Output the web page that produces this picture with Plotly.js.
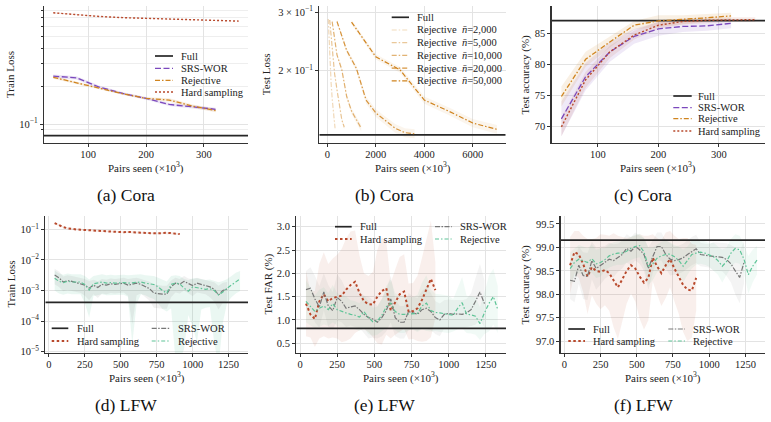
<!DOCTYPE html>
<html>
<head>
<meta charset="utf-8">
<script src="https://cdn.plot.ly/plotly-3.0.1.min.js"></script>
<style>
  html, body { margin: 0; padding: 0; background: #ffffff; }
  #chart { width: 771px; height: 422px; }
</style>
</head>
<body>
<div id="chart"></div>
<script>
// ---------------- Cora: train loss (a) ----------------
const coraPairs = [40, 80, 120, 160, 200, 240, 280, 320];
const coraPairsHard = [40, 80, 120, 160, 200, 240, 280, 320, 360];
const coraTrainFull = 0.0808;
const coraTrainSrs = [0.240, 0.233, 0.196, 0.175, 0.160, 0.143, 0.137, 0.131];
const coraTrainSrsStd = [0.008, 0.007, 0.005, 0.004, 0.004, 0.004, 0.004, 0.004];
const coraTrainRej = [0.235, 0.212, 0.192, 0.174, 0.160, 0.155, 0.139, 0.128];
const coraTrainRejStd = [0.006, 0.005, 0.004, 0.003, 0.003, 0.005, 0.004, 0.004];
const coraTrainHard = [0.765, 0.735, 0.715, 0.700, 0.690, 0.680, 0.672, 0.665, 0.657];
const coraTrainHardStd = [0.006, 0.005, 0.005, 0.004, 0.004, 0.004, 0.004, 0.004, 0.004];

// ---------------- Cora: test loss for several n-bar (b) ----------------
const coraTestFull = 0.128;
const nbarLabels = ['2,000', '5,000', '10,000', '20,000', '50,000'];
const nbarPairs = [
  [40, 80, 120, 160, 200, 240, 280, 320],
  [100, 200, 300, 400, 500, 600, 700],
  [200, 400, 600, 800, 1000, 1200, 1400],
  [400, 800, 1200, 1600, 2000, 2400, 2800, 3200, 3600],
  [1000, 2000, 3000, 4000, 5000, 6000, 7000]
];
const nbarLoss = [
  [0.286, 0.235, 0.205, 0.182, 0.165, 0.152, 0.141, 0.134],
  [0.284, 0.230, 0.196, 0.175, 0.156, 0.142, 0.135],
  [0.281, 0.223, 0.201, 0.167, 0.151, 0.142, 0.134],
  [0.281, 0.230, 0.203, 0.163, 0.149, 0.141, 0.134, 0.130, 0.129],
  [0.280, 0.220, 0.201, 0.163, 0.151, 0.139, 0.133]
];
const nbarStd = [0.002, 0.002, 0.003, 0.004, 0.004];

// ---------------- Cora: test accuracy (c) ----------------
const coraAccFull = 87.03;
const coraAccSrs = [71.2, 78.0, 82.0, 84.5, 85.7, 86.1, 86.2, 86.6];
const coraAccSrsStd = [2.8, 2.2, 1.6, 1.2, 1.1, 0.9, 0.8, 0.8];
const coraAccRej = [74.8, 80.8, 83.6, 86.3, 87.0, 87.2, 87.5, 87.8];
const coraAccRejStd = [1.6, 1.2, 0.9, 0.7, 0.9, 0.7, 0.6, 0.5];
const coraAccHard = [69.9, 77.5, 82.0, 84.7, 86.3, 86.9, 87.1, 87.2, 87.2];
const coraAccHardStd = [1.5, 1.3, 1.0, 0.7, 0.6, 0.5, 0.5, 0.4, 0.4];

// ---------------- LFW (d, e, f) ----------------
const lfwPairs = [40, 70, 100, 130, 160, 190, 220, 250, 280, 310, 340, 370, 400, 430, 460,
  490, 520, 550, 580, 610, 640, 670, 700, 730, 760, 790, 820, 850, 880, 910, 940, 970,
  1000, 1030, 1060, 1090, 1120, 1150, 1180, 1210, 1240, 1270, 1300, 1330];
const lfwPairsSrs = lfwPairs.slice(0, 41);
const lfwPairsHard = lfwPairs.slice(0, 30);

// (d) train loss
const lfwTrainFull = 4.1e-4;
const lfwTrainHard = [0.160, 0.135, 0.118, 0.108, 0.102, 0.099, 0.097, 0.095, 0.094, 0.092,
  0.090, 0.088, 0.086, 0.085, 0.084, 0.083, 0.080, 0.082, 0.080, 0.079, 0.077, 0.076, 0.075,
  0.074, 0.074, 0.076, 0.077, 0.075, 0.072, 0.070];
const lfwTrainSrs = [3.2e-3, 2.6e-3, 1.9e-3, 2.1e-3, 2.0e-3, 1.8e-3, 1.7e-3, 1.5e-3, 1.2e-3,
  1.5e-3, 1.26e-3, 1.6e-3, 1.5e-3, 1.66e-3, 1.6e-3, 1.66e-3, 1.74e-3, 1.5e-3, 1.6e-3, 1.74e-3,
  1.6e-3, 1.38e-3, 1.15e-3, 8.3e-4, 7.9e-4, 7.6e-4, 7.6e-4, 1.32e-3, 1.74e-3, 1.6e-3, 2.0e-3,
  1.66e-3, 1.45e-3, 1.74e-3, 1.6e-3, 1.5e-3, 1.32e-3, 1.1e-3, 7.2e-4, 1.0e-3, 1.12e-3];
const lfwTrainSrsUp = [1.6, 1.6, 1.5, 1.5, 1.5, 1.5, 1.5, 1.6, 1.7, 1.5, 1.6, 1.5, 1.5, 1.5, 1.5,
  1.5, 1.5, 1.6, 1.6, 1.5, 1.5, 1.6, 1.7, 1.9, 1.9, 1.9, 1.9, 1.6, 1.5, 1.5, 1.5, 1.5, 1.6,
  1.5, 1.5, 1.5, 1.6, 1.7, 2.0, 1.8, 1.7];
const lfwTrainSrsDown = [2.0, 2.0, 2.0, 2.0, 2.0, 2.0, 2.0, 2.2, 2.5, 2.0, 2.2, 2.0, 2.0, 2.0,
  2.0, 2.0, 2.0, 2.2, 20, 2.5, 2.0, 2.2, 2.5, 3.0, 3.0, 3.0, 3.0, 2.2, 2.0, 2.0, 2.0, 2.0, 2.2,
  2.0, 2.0, 2.0, 2.2, 2.5, 3.0, 2.5, 2.5];
const lfwTrainRej = [2.5e-3, 2.0e-3, 1.82e-3, 2.0e-3, 1.9e-3, 1.86e-3, 1.9e-3, 1.58e-3, 1.05e-3,
  1.66e-3, 1.82e-3, 1.9e-3, 1.74e-3, 1.82e-3, 1.74e-3, 1.82e-3, 1.82e-3, 1.74e-3, 1.78e-3,
  1.82e-3, 1.9e-3, 1.74e-3, 1.66e-3, 1.58e-3, 1.32e-3, 1.0e-3, 8.3e-4, 1.58e-3, 1.74e-3,
  1.66e-3, 1.2e-3, 9.5e-4, 1.32e-3, 1.26e-3, 1.2e-3, 1.1e-3, 1.15e-3, 1.0e-3, 7.2e-4, 8.9e-4,
  1.2e-3, 1.5e-3, 2.0e-3, 2.4e-3];
const lfwTrainRejUp = [1.8, 1.8, 1.8, 1.8, 1.8, 1.8, 1.8, 1.9, 2.2, 1.8, 1.8, 1.8, 1.8, 1.8,
  1.8, 1.8, 1.8, 1.8, 1.8, 1.8, 1.8, 1.8, 1.8, 1.9, 2.0, 2.3, 2.4, 1.9, 1.8, 1.8, 2.0, 2.3, 1.9,
  2.0, 2.0, 2.0, 2.0, 2.1, 2.6, 2.3, 2.0, 2.0, 1.9, 1.8];
const lfwTrainRejDown = [2.5, 2.5, 2.5, 2.5, 2.5, 2.5, 2.5, 4, 8, 2.5, 2.5, 2.5, 2.5, 2.5, 2.5,
  2.5, 2.5, 2.8, 100, 5, 2.5, 2.5, 2.8, 3, 3.5, 4, 4, 6, 300, 300, 100, 6, 20, 60, 5, 4, 4, 50,
  200, 10, 3, 2.5, 2.5, 2.5];

// (e) test FAR
const lfwFarFull = 0.82;
const lfwFarHard = [1.35, 1.12, 1.02, 1.40, 1.55, 1.40, 1.47, 1.50, 1.52, 1.65, 1.75, 1.82,
  1.58, 1.40, 1.34, 1.33, 1.50, 1.62, 1.68, 1.20, 1.38, 1.55, 1.61, 1.18, 1.19, 1.25, 1.43,
  1.65, 1.88, 1.64];
const lfwFarHardStd = [0.7, 0.5, 0.6, 0.8, 0.9, 0.8, 0.85, 0.9, 1.0, 1.1, 1.15, 1.1, 0.8, 0.6,
  0.6, 0.7, 1.0, 1.15, 1.0, 0.6, 0.7, 0.8, 0.8, 0.6, 0.6, 0.7, 0.9, 1.1, 1.25, 0.6];
const lfwFarSrs = [1.65, 1.68, 1.45, 1.28, 1.60, 1.30, 1.20, 1.48, 1.40, 1.25, 1.28, 1.30, 1.22,
  1.12, 1.05, 1.02, 0.95, 1.05, 1.20, 1.45, 1.05, 0.95, 0.95, 1.18, 1.15, 1.12, 1.22, 1.25,
  1.18, 1.05, 1.00, 1.12, 1.14, 1.12, 1.13, 1.12, 1.15, 1.22, 1.40, 1.60, 1.35];
const lfwFarSrsStd = [0.4, 0.45, 0.5, 0.45, 0.4, 0.45, 0.4, 0.5, 0.45, 0.4, 0.4, 0.45, 0.4, 0.4,
  0.45, 0.4, 0.35, 0.4, 0.45, 0.5, 0.4, 0.35, 0.35, 0.4, 0.35, 0.35, 0.4, 0.45, 0.4, 0.35, 0.35,
  0.3, 0.3, 0.3, 0.3, 0.3, 0.3, 0.35, 0.5, 0.6, 0.5];
const lfwFarRej = [1.40, 1.28, 1.18, 1.25, 1.30, 1.22, 1.35, 1.22, 1.18, 1.15, 1.12, 1.10, 1.06,
  1.18, 1.05, 0.96, 0.98, 1.10, 1.28, 1.36, 1.18, 1.12, 1.12, 1.13, 1.14, 1.14, 1.30, 1.36,
  1.20, 1.16, 1.15, 1.13, 1.12, 1.10, 1.25, 1.37, 1.12, 1.11, 1.08, 0.92, 1.15, 1.35, 1.50, 1.22];
const lfwFarRejStd = [0.45, 0.4, 0.35, 0.4, 0.4, 0.35, 0.4, 0.35, 0.35, 0.35, 0.3, 0.3, 0.3,
  0.35, 0.35, 0.3, 0.3, 0.35, 0.45, 0.5, 0.4, 0.4, 0.4, 0.35, 0.35, 0.4, 0.5, 0.6, 0.45, 0.4,
  0.4, 0.4, 0.4, 0.35, 0.45, 0.55, 0.4, 0.4, 0.4, 0.35, 0.45, 0.6, 0.6, 0.5];

// (f) test accuracy
const lfwAccFull = 99.155;
const lfwAccHard = [98.62, 98.90, 98.85, 98.65, 98.38, 98.58, 98.50, 98.48, 98.52, 98.45, 98.30,
  98.15, 98.32, 98.50, 98.62, 98.55, 98.38, 98.25, 98.35, 98.78, 98.60, 98.45, 98.62, 98.75,
  98.55, 98.38, 98.20, 98.10, 98.08, 98.35];
const lfwAccHardStd = [0.6, 0.45, 0.5, 0.6, 0.8, 0.6, 0.7, 0.8, 0.75, 0.8, 1.0, 1.1, 0.9, 0.7,
  0.6, 0.7, 0.9, 1.0, 0.9, 0.5, 0.6, 0.7, 0.7, 0.6, 0.7, 0.8, 1.0, 1.1, 1.0, 0.7];
const lfwAccSrs = [98.30, 98.28, 98.62, 98.40, 98.38, 98.72, 98.55, 98.62, 98.68, 98.75, 98.72,
  98.78, 98.85, 98.98, 98.92, 99.02, 98.95, 98.85, 98.55, 98.80, 99.02, 99.02, 98.85, 98.75,
  98.72, 98.74, 98.78, 98.85, 98.92, 98.97, 98.85, 98.83, 98.82, 98.81, 98.80, 98.79, 98.74,
  98.65, 98.50, 98.36, 98.68];
const lfwAccSrsStd = [0.4, 0.45, 0.4, 0.5, 0.5, 0.4, 0.45, 0.4, 0.35, 0.35, 0.35, 0.3, 0.3, 0.3,
  0.3, 0.3, 0.3, 0.35, 0.45, 0.35, 0.3, 0.3, 0.3, 0.35, 0.3, 0.3, 0.3, 0.3, 0.3, 0.3, 0.25, 0.25,
  0.25, 0.3, 0.3, 0.3, 0.35, 0.4, 0.5, 0.55, 0.45];
const lfwAccRej = [98.55, 98.68, 98.75, 98.72, 98.68, 98.76, 98.65, 98.68, 98.74, 98.82, 98.86,
  98.88, 98.88, 98.92, 98.98, 99.02, 99.04, 98.90, 98.60, 98.65, 98.77, 98.82, 98.85, 98.86,
  98.80, 98.72, 98.60, 98.72, 98.85, 98.88, 98.90, 98.88, 98.84, 98.80, 98.72, 98.60, 98.70,
  98.88, 98.98, 98.95, 98.75, 98.42, 98.60, 98.73];
const lfwAccRejStd = [0.35, 0.3, 0.3, 0.3, 0.3, 0.3, 0.3, 0.3, 0.25, 0.25, 0.25, 0.25, 0.25,
  0.25, 0.25, 0.25, 0.25, 0.3, 0.4, 0.35, 0.3, 0.3, 0.3, 0.25, 0.25, 0.3, 0.35, 0.3, 0.3, 0.25,
  0.25, 0.25, 0.25, 0.3, 0.3, 0.35, 0.3, 0.3, 0.3, 0.3, 0.3, 0.4, 0.35, 0.3];

// ---------------- Styling ----------------
const W = 771, H = 422;
const FONT = '"Liberation Serif", "Times New Roman", serif';
const INK = '#222222';
const C_FULL = '#262626';
const C_SRS = '#7b48bd';
const C_REJ = '#d0841f';
const C_HARD = '#b8492c';
const C_SRS_LFW = '#777777';
const C_REJ_LFW = '#5fc497';

const DASH_SRS = '6px,2.5px';
const DASH_REJ = '5px,2px,1.5px,2px';
const DASH_HARD = '2px,2px';
const DASH_SRS_LFW = '5px,1.5px,1.5px,1.5px';
const DASH_REJ_LFW = '4px,2px,1.5px,2px';
const DASH_HARD_LFW = '2.5px,2.5px';

function rgba(hex, a) {
  const n = parseInt(hex.slice(1), 16);
  return `rgba(${(n >> 16) & 255},${(n >> 8) & 255},${n & 255},${a})`;
}
const px = v => v / W;
const py = v => 1 - v / H;

// Panel boxes in page pixels: [left, right], [top, bottom]
const boxes = [
  { x: [44, 248], y: [6, 143] },
  { x: [319.3, 505.7], y: [6, 143] },
  { x: [551.7, 765], y: [6, 143] },
  { x: [45.3, 248], y: [216, 353] },
  { x: [296.3, 506], y: [216, 353] },
  { x: [560.7, 765], y: [216, 353] }
];
const xRanges = [[24, 376], [-330, 7360], [24, 376], [-25, 1385], [-25, 1385], [-25, 1385]];

const traces = [];
const sfx = n => (n === 1 ? '' : String(n));

function line(ax, x, y, color, dash, width) {
  traces.push({
    type: 'scatter', mode: 'lines', x: x, y: y,
    xaxis: 'x' + sfx(ax), yaxis: 'y' + sfx(ax),
    line: { color: color, dash: dash, width: width },
    hoverinfo: 'skip', showlegend: false
  });
}
function band(ax, x, lo, hi, color) {
  traces.push({
    type: 'scatter', mode: 'lines',
    x: x.concat(x.slice().reverse()),
    y: hi.concat(lo.slice().reverse()),
    fill: 'toself', fillcolor: color, line: { width: 0 },
    xaxis: 'x' + sfx(ax), yaxis: 'y' + sfx(ax),
    hoverinfo: 'skip', showlegend: false
  });
}
function stdBand(ax, x, m, s, color, floor) {
  band(ax, x, m.map((v, i) => Math.max(v - s[i], floor)), m.map((v, i) => v + s[i]), color);
}
function fullLine(ax, value) {
  line(ax, xRanges[ax - 1], [value, value], C_FULL, 'solid', 1.7);
}

// (a)
stdBand(1, coraPairs, coraTrainSrs, coraTrainSrsStd, rgba(C_SRS, 0.15), 1e-3);
stdBand(1, coraPairs, coraTrainRej, coraTrainRejStd, rgba(C_REJ, 0.15), 1e-3);
stdBand(1, coraPairsHard, coraTrainHard, coraTrainHardStd, rgba(C_HARD, 0.12), 1e-3);
fullLine(1, coraTrainFull);
line(1, coraPairs, coraTrainSrs, C_SRS, DASH_SRS, 1.3);
line(1, coraPairs, coraTrainRej, C_REJ, DASH_REJ, 1.3);
line(1, coraPairsHard, coraTrainHard, C_HARD, DASH_HARD, 1.4);

// (b)
const nbarAlpha = [0.3, 0.45, 0.62, 0.85, 1.0];
nbarPairs.forEach((xs, k) => {
  stdBand(2, xs, nbarLoss[k], nbarLoss[k].map(() => nbarStd[k]), rgba(C_REJ, 0.08), 1e-3);
});
fullLine(2, coraTestFull);
nbarPairs.forEach((xs, k) => {
  line(2, xs, nbarLoss[k], rgba(C_REJ, nbarAlpha[k]), DASH_REJ, 1.2);
});

// (c)
stdBand(3, coraPairs, coraAccSrs, coraAccSrsStd, rgba(C_SRS, 0.12), 0);
stdBand(3, coraPairs, coraAccRej, coraAccRejStd, rgba(C_REJ, 0.12), 0);
stdBand(3, coraPairsHard, coraAccHard, coraAccHardStd, rgba(C_HARD, 0.1), 0);
fullLine(3, coraAccFull);
line(3, coraPairs, coraAccSrs, C_SRS, DASH_SRS, 1.3);
line(3, coraPairs, coraAccRej, C_REJ, DASH_REJ, 1.3);
line(3, coraPairsHard, coraAccHard, C_HARD, DASH_HARD, 1.4);

// (d)
band(4, lfwPairs, lfwTrainRej.map((v, i) => v / lfwTrainRejDown[i]),
  lfwTrainRej.map((v, i) => v * lfwTrainRejUp[i]), rgba(C_REJ_LFW, 0.13));
band(4, lfwPairsSrs, lfwTrainSrs.map((v, i) => v / lfwTrainSrsDown[i]),
  lfwTrainSrs.map((v, i) => v * lfwTrainSrsUp[i]), rgba(C_SRS_LFW, 0.1));
band(4, lfwPairsHard, lfwTrainHard.map(v => v * 0.93), lfwTrainHard.map(v => v * 1.07), rgba(C_HARD, 0.12));
fullLine(4, lfwTrainFull);
line(4, lfwPairsHard, lfwTrainHard, C_HARD, DASH_HARD_LFW, 2.0);
line(4, lfwPairsSrs, lfwTrainSrs, C_SRS_LFW, DASH_SRS_LFW, 1.2);
line(4, lfwPairs, lfwTrainRej, C_REJ_LFW, DASH_REJ_LFW, 1.2);

// (e)
stdBand(5, lfwPairsHard, lfwFarHard, lfwFarHardStd, rgba(C_HARD, 0.09), 0);
stdBand(5, lfwPairsSrs, lfwFarSrs, lfwFarSrsStd, rgba(C_SRS_LFW, 0.08), 0);
stdBand(5, lfwPairs, lfwFarRej, lfwFarRejStd, rgba(C_REJ_LFW, 0.09), 0);
fullLine(5, lfwFarFull);
line(5, lfwPairsHard, lfwFarHard, C_HARD, DASH_HARD_LFW, 2.0);
line(5, lfwPairsSrs, lfwFarSrs, C_SRS_LFW, DASH_SRS_LFW, 1.2);
line(5, lfwPairs, lfwFarRej, C_REJ_LFW, DASH_REJ_LFW, 1.2);

// (f)
stdBand(6, lfwPairsHard, lfwAccHard, lfwAccHardStd, rgba(C_HARD, 0.09), 0);
stdBand(6, lfwPairsSrs, lfwAccSrs, lfwAccSrsStd, rgba(C_SRS_LFW, 0.08), 0);
stdBand(6, lfwPairs, lfwAccRej, lfwAccRejStd, rgba(C_REJ_LFW, 0.09), 0);
fullLine(6, lfwAccFull);
line(6, lfwPairsHard, lfwAccHard, C_HARD, DASH_HARD_LFW, 2.0);
line(6, lfwPairsSrs, lfwAccSrs, C_SRS_LFW, DASH_SRS_LFW, 1.2);
line(6, lfwPairs, lfwAccRej, C_REJ_LFW, DASH_REJ_LFW, 1.2);

// ---------------- Axes ----------------
const tickFont = { family: FONT, size: 10.5, color: INK };
function axisBase(extra) {
  return Object.assign({
    showline: true, linecolor: '#333333', linewidth: 1.25, mirror: false,
    ticks: 'outside', ticklen: 3, tickwidth: 1, tickcolor: '#333333',
    showgrid: true, gridcolor: '#e3e3e3', gridwidth: 1, zeroline: false,
    tickfont: tickFont, fixedrange: true
  }, extra);
}
const sup = k => '10<sup>\u2212' + k + '</sup>';

const layout = {
  width: W, height: H,
  margin: { l: 0, r: 0, t: 0, b: 0 },
  paper_bgcolor: '#ffffff', plot_bgcolor: '#ffffff',
  showlegend: false,
  font: { family: FONT, color: INK }
};

const xTicksCora = { tickmode: 'array', tickvals: [100, 200, 300], ticktext: ['100', '200', '300'] };
const xTicksLfw = { tickmode: 'array', tickvals: [0, 250, 500, 750, 1000, 1250],
  ticktext: ['0', '250', '500', '750', '1000', '1250'] };

const yAxes = [
  { type: 'log', range: [Math.log10(0.0707), Math.log10(0.866)], tickmode: 'array',
    tickvals: [0.1], ticktext: [sup(1)],
    minor: { tickmode: 'array', tickvals: [0.09, 0.2, 0.3, 0.4, 0.5, 0.6, 0.7, 0.8],
      ticks: 'outside', ticklen: 2, tickcolor: '#333333', showgrid: true, gridcolor: '#eeeeee' } },
  { type: 'log', range: [Math.log10(0.121), Math.log10(0.313)], tickmode: 'array',
    tickvals: [0.2, 0.3], ticktext: ['2 \u00d7 ' + sup(1), '3 \u00d7 ' + sup(1)] },
  { range: [67.3, 89.4], tickmode: 'array', tickvals: [70, 75, 80, 85], ticktext: ['70', '75', '80', '85'] },
  { type: 'log', range: [-5.04, -0.565], tickmode: 'array',
    tickvals: [1e-5, 1e-4, 1e-3, 1e-2, 1e-1], ticktext: [sup(5), sup(4), sup(3), sup(2), sup(1)] },
  { range: [0.29, 3.23], tickmode: 'array', tickvals: [0.5, 1, 1.5, 2, 2.5, 3],
    ticktext: ['0.5', '1.0', '1.5', '2.0', '2.5', '3.0'] },
  { range: [96.75, 99.67], tickmode: 'array', tickvals: [97, 97.5, 98, 98.5, 99, 99.5],
    ticktext: ['97.0', '97.5', '98.0', '98.5', '99.0', '99.5'] }
];
const xTicks = [xTicksCora,
  { tickmode: 'array', tickvals: [0, 2000, 4000, 6000], ticktext: ['0', '2000', '4000', '6000'] },
  xTicksCora, xTicksLfw, xTicksLfw, xTicksLfw];

boxes.forEach((b, i) => {
  const n = i + 1;
  layout['xaxis' + sfx(n)] = axisBase(Object.assign({
    domain: [px(b.x[0]), px(b.x[1])], range: xRanges[i], anchor: 'y' + sfx(n),
    ticklabelstandoff: -2
  }, xTicks[i]));
  layout['yaxis' + sfx(n)] = axisBase(Object.assign({
    domain: [py(b.y[1]), py(b.y[0])], anchor: 'x' + sfx(n)
  }, yAxes[i]));
});

// ---------------- Titles, captions and legends ----------------
const annotations = [];
const shapes = [];
function text(t, x, y, opts) {
  annotations.push(Object.assign({
    text: t, x: px(x), y: py(y), xref: 'paper', yref: 'paper',
    showarrow: false, xanchor: 'center', yanchor: 'middle',
    font: { family: FONT, size: 11, color: INK }
  }, opts || {}));
}

const yTitles = ['Train Loss', 'Test Loss', 'Test accuracy (%)', 'Train Loss', 'Test FAR (%)', 'Test accuracy (%)'];
const yTitleX = [10.5, 266.7, 525, 10, 268, 525];
const captions = ['(a) Cora', '(b) Cora', '(c) Cora', '(d) LFW', '(e) LFW', '(f) LFW'];
const captionX = [126, 384, 643, 126, 384, 643];
boxes.forEach((b, i) => {
  const midY = (b.y[0] + b.y[1]) / 2;
  const midX = (b.x[0] + b.x[1]) / 2;
  text(yTitles[i], yTitleX[i], midY, { textangle: -90 });
  text('Pairs seen (\u00d710<sup>3</sup>)', midX, b.y[1] + 24);
  text(captions[i], captionX[i], i < 3 ? 195 : 405, { font: { family: FONT, size: 17.5, color: '#111111' } });
});

function legendItem(x0, x1, tx, y, label, color, dash, width) {
  shapes.push({
    type: 'line', xref: 'paper', yref: 'paper',
    x0: px(x0), x1: px(x1), y0: py(y), y1: py(y),
    line: { color: color, dash: dash, width: width }
  });
  text(label, tx, y, { xanchor: 'left', font: { family: FONT, size: 10.5, color: INK } });
}

// (a) legend
legendItem(155, 173, 179, 56, 'Full', C_FULL, 'solid', 1.7);
legendItem(155, 173, 179, 68.3, 'SRS-WOR', C_SRS, DASH_SRS, 1.3);
legendItem(155, 173, 179, 80.3, 'Rejective', C_REJ, DASH_REJ, 1.3);
legendItem(155, 173, 179, 92, 'Hard sampling', C_HARD, DASH_HARD, 1.4);

// (b) legend
legendItem(391.7, 409, 415, 17.3, 'Full', C_FULL, 'solid', 1.7);
nbarLabels.forEach((lab, k) => {
  legendItem(391.7, 409, 415, 30 + 12.7 * k, 'Rejective  <i>n\u0304</i>=' + lab,
    rgba(C_REJ, nbarAlpha[k]), DASH_REJ, 1.2);
});

// (c) legend
legendItem(673.3, 691.7, 696, 96, 'Full', C_FULL, 'solid', 1.7);
legendItem(673.3, 691.7, 696, 107.7, 'SRS-WOR', C_SRS, DASH_SRS, 1.3);
legendItem(673.3, 691.7, 696, 118.7, 'Rejective', C_REJ, DASH_REJ, 1.3);
legendItem(673.3, 691.7, 696, 131, 'Hard sampling', C_HARD, DASH_HARD, 1.4);

// (d), (e), (f) legends: two columns
function lfwLegend(c1, c2, r1, r2) {
  legendItem(c1[0], c1[1], c1[2], r1, 'Full', C_FULL, 'solid', 1.7);
  legendItem(c1[0], c1[1], c1[2], r2, 'Hard sampling', C_HARD, DASH_HARD_LFW, 2.0);
  legendItem(c2[0], c2[1], c2[2], r1, 'SRS-WOR', C_SRS_LFW, DASH_SRS_LFW, 1.2);
  legendItem(c2[0], c2[1], c2[2], r2, 'Rejective', C_REJ_LFW, DASH_REJ_LFW, 1.2);
}
lfwLegend([51.7, 68.3, 75], [151.7, 170, 175.7], 328.3, 341);
lfwLegend([335, 351.7, 357.7], [435, 451.7, 457.7], 226.7, 239);
lfwLegend([568.3, 585, 591], [668.3, 685, 691], 329, 341);

layout.annotations = annotations;
layout.shapes = shapes;

Plotly.newPlot('chart', traces, layout, { staticPlot: true, displayModeBar: false });
</script>
</body>
</html>
